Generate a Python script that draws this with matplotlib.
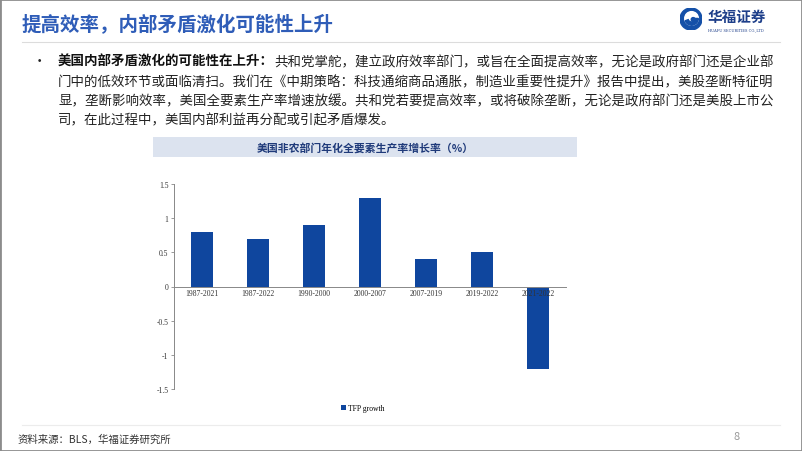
import matplotlib
matplotlib.use('Agg')
import matplotlib.pyplot as plt
from matplotlib.patches import Rectangle, Circle, Wedge
import numpy as np

plt.rcParams['font.family'] = ['Noto Sans CJK SC', 'DejaVu Sans']

# 数据
categories = ['1987-2021', '1987-2022', '1990-2000', '2000-2007', '2007-2019', '2019-2022', '2021-2022']
tfp_growth = [0.8, 0.7, 0.9, 1.3, 0.4, 0.5, -1.2]
y_ticks = [1.5, 1, 0.5, 0, -0.5, -1, -1.5]
y_tick_labels = ['1.5', '1', '0.5', '0', '-0.5', '-1', '-1.5']

page_title = '提高效率，内部矛盾激化可能性上升'
bullet_bold = '美国内部矛盾激化的可能性在上升：'
bullet_lines = [
    '共和党掌舵，建立政府效率部门，或旨在全面提高效率，无论是政府部门还是企业部',
    '门中的低效环节或面临清扫。我们在《中期策略：科技通缩商品通胀，制造业重要性提升》报告中提出，美股垄断特征明',
    '显，垄断影响效率，美国全要素生产率增速放缓。共和党若要提高效率，或将破除垄断，无论是政府部门还是美股上市公',
    '司，在此过程中，美国内部利益再分配或引起矛盾爆发。',
]
chart_title = '美国非农部门年化全要素生产率增长率（%）'
legend_label = 'TFP growth'
source = '资料来源：BLS，华福证券研究所'

W, H = 802, 452
BLUE = '#0F469E'


def fx(x):
    return x / W


def fy(y):
    return 1 - y / H


fig = plt.figure(figsize=(8.02, 4.52), dpi=100)
fig.patch.set_facecolor('white')

# 边框
fig.patches.append(Rectangle((0, 0), 1, 1, transform=fig.transFigure,
                             fill=False, edgecolor='#8c8c8c', linewidth=2))

# 标题
fig.text(fx(22), fy(25), page_title, fontsize=14, fontweight='bold',
         color='#2F5DB8', va='center', ha='left')
fig.add_artist(plt.Line2D([fx(22), fx(780)], [fy(43), fy(43)],
                          transform=fig.transFigure, color='#dcdcdc', linewidth=0.8))

# logo
lax = fig.add_axes([fx(680), fy(31), fx(22), 22 / H])
lax.set_xlim(-1, 1)
lax.set_ylim(-1, 1)
lax.set_aspect('equal')
lax.axis('off')
lax.add_patch(Circle((0, 0), 1, color='#1450A8'))
lax.add_patch(Circle((0.05, 0.05), 0.62, color='white'))
lax.add_patch(Wedge((0.05, 0.05), 0.62, 200, 360, width=0.3, color='#1450A8'))
lax.add_patch(Circle((0.2, -0.05), 0.18, color='#1450A8'))
fig.text(fx(708), fy(17), '华福证券', fontsize=10.5, fontweight='bold',
         color='#1E3F8A', va='center', ha='left')
fig.text(fx(708), fy(30), 'HUAFU SECURITIES CO.,LTD', fontsize=2.6,
         color='#1E3F8A', va='center', ha='left', family='DejaVu Serif')

# 正文
fs_body = 9.7
line_y = [62, 82, 101, 120]
fig.text(fx(33), fy(line_y[0]), '•', fontsize=fs_body, va='center', ha='left', color='#222222')
tb = fig.text(fx(58), fy(line_y[0]), bullet_bold, fontsize=fs_body, fontweight='bold',
              va='center', ha='left', color='#111111')
fig.canvas.draw()
bb = tb.get_window_extent()
fig.text(bb.x1 / W, fy(line_y[0]), bullet_lines[0], fontsize=fs_body,
         va='center', ha='left', color='#222222')
for y, line in zip(line_y[1:], bullet_lines[1:]):
    fig.text(fx(58), fy(y), line, fontsize=fs_body, va='center', ha='left', color='#222222')

# 图表标题框
fig.patches.append(Rectangle((fx(153), fy(158)), fx(577 - 153), 20 / H,
                             transform=fig.transFigure, facecolor='#DCE3EF', edgecolor='none'))
fig.text(fx(365), fy(148), chart_title, fontsize=7.8, fontweight='bold',
         color='#1F3A7A', va='center', ha='center')

# 柱状图
ax = fig.add_axes([fx(174), fy(390), fx(566 - 174), (390 - 185) / H])
x = np.arange(len(categories))
ax.bar(x, tfp_growth, width=0.4, color=BLUE, label=legend_label, zorder=2)
ax.set_xlim(-0.5, len(categories) - 0.5)
ax.set_ylim(-1.5, 1.5)
ax.set_yticks(y_ticks)
ax.set_yticklabels(y_tick_labels, family='Liberation Serif', fontsize=5.5, color='#333333')
ax.set_xticks([])
for xi, lab in zip(x, categories):
    ax.text(xi, -0.03, lab, ha='center', va='top', family='Liberation Serif',
            fontsize=5.5, color='#333333', zorder=3)
for s in ['top', 'right']:
    ax.spines[s].set_visible(False)
ax.spines['bottom'].set_position(('data', 0))
ax.spines['bottom'].set_color('#888888')
ax.spines['left'].set_color('#888888')
ax.spines['bottom'].set_linewidth(0.7)
ax.spines['left'].set_linewidth(0.7)
ax.tick_params(axis='y', length=2, width=0.6, color='#888888', pad=2)
ax.patch.set_alpha(0)

leg = fig.legend(loc='center', bbox_to_anchor=(fx(363), fy(409)), frameon=False,
                 prop={'family': 'Liberation Serif', 'size': 5.5},
                 handlelength=0.6, handleheight=0.6, handletextpad=0.3)

# 页脚
fig.add_artist(plt.Line2D([fx(22), fx(780)], [fy(426), fy(426)],
                          transform=fig.transFigure, color='#ececec', linewidth=0.8))
fig.text(fx(18), fy(440), source, fontsize=7.5, color='#333333', va='center', ha='left')
fig.text(fx(737), fy(437), '8', fontsize=8, color='#999999', va='center', ha='center')

fig.savefig('out.png', dpi=100)
